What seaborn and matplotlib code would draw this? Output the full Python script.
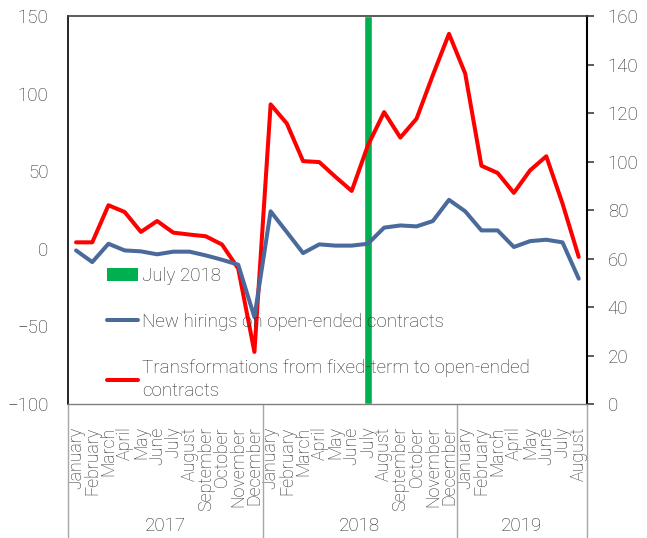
import numpy as np
import pandas as pd
import matplotlib
matplotlib.use("Agg")
import matplotlib.pyplot as plt
import matplotlib.transforms as mtransforms
from matplotlib.patches import Patch
from matplotlib.lines import Line2D
import seaborn as sns

# ---------------- data ----------------
month_names = ["January", "February", "March", "April", "May", "June", "July",
               "August", "September", "October", "November", "December"]
month_labels = month_names + month_names + month_names[:8]
years = ["2017", "2018", "2019"]
year_month_counts = [12, 12, 8]

# left axis
new_hirings = [-1.0, -8.5, 3.3, -1.0, -1.6, -3.5, -1.8, -1.8, -4.2, -7.0, -10.2, -44.0,
               24.2, 10.8, -2.7, 2.9, 2.1, 2.1, 3.3, 13.7, 15.1, 14.5, 17.9, 31.6,
               24.2, 11.9, 11.9, 1.2, 5.0, 5.9, 4.2, -19.2]
# right axis
transformations = [66.7, 66.7, 82.0, 79.2, 71.0, 75.5, 70.7, 69.9, 69.2, 65.8, 55.9, 21.5,
                   123.6, 115.7, 100.2, 99.8, 93.7, 87.9, 106.7, 120.4, 109.9, 117.7, 135.6, 152.7,
                   136.3, 98.3, 95.3, 87.1, 96.4, 102.2, 82.7, 60.7]

highlight_label = "July 2018"
highlight_index = [18]
highlight_value = [160]

series_labels = ["New hirings on open-ended contracts",
                 "Transformations from fixed-term to open-ended\ncontracts"]

# ---------------- style ----------------
sns.set_style("white")
plt.rcParams["font.family"] = ["Roboto", "DejaVu Sans"]
plt.rcParams["font.weight"] = "light"
text_color = "#2B2B2B"
blue = "#4A6A9B"
red = "#FF0000"
green = "#00B050"
sep_color = "#A6A6A6"
fs = 13.5

df = pd.DataFrame({"pos": np.arange(len(month_labels)), "month": month_labels,
                   "new": new_hirings, "trans": transformations})
bar_df = pd.DataFrame({"pos": highlight_index, "val": highlight_value})

fig = plt.figure(figsize=(6.47, 5.38), dpi=100)
ax = fig.add_axes([0.105, 0.249, 0.802, 0.721])
ax2 = ax.twinx()
ax.set_zorder(ax2.get_zorder() + 1)
ax.patch.set_visible(False)

sns.barplot(data=bar_df, x="pos", y="val", native_scale=True, width=0.45,
            color=green, saturation=1, ax=ax2)
sns.lineplot(data=df, x="pos", y="trans", ax=ax2, color=red, linewidth=2.9)
sns.lineplot(data=df, x="pos", y="new", ax=ax, color=blue, linewidth=2.9)

ax.set_xlim(-0.5, len(month_labels) - 0.5)
ax.set_ylim(-100, 150)
ax2.set_ylim(0, 160)
ax.set_yticks(np.arange(-100, 151, 50))
ax2.set_yticks(np.arange(0, 161, 20))
ax.set_xlabel("")
ax.set_ylabel("")
ax2.set_xlabel("")
ax2.set_ylabel("")

ax.tick_params(axis="y", length=0, pad=14, labelsize=fs, labelcolor=text_color)
ax2.tick_params(axis="y", length=5, width=1.2, color="#404040", pad=10,
                labelsize=fs, labelcolor=text_color)

ax.set_xticks(np.arange(len(month_labels)))
ax.set_xticklabels(month_labels, rotation=90, fontsize=12.8, color=text_color)
ax.set_xticks(np.arange(-0.5, len(month_labels), 1), minor=True)
ax.tick_params(axis="x", which="major", length=0, pad=16)
ax.tick_params(axis="x", which="minor", length=69, width=1, color=sep_color)

# spines
ax.spines["right"].set_visible(False)
for s in ["left", "top", "bottom"]:
    ax2.spines[s].set_visible(False)
ax.spines["left"].set_color("black")
ax.spines["left"].set_linewidth(1.2)
ax.spines["top"].set_color("#404040")
ax.spines["top"].set_linewidth(1.2)
ax.spines["bottom"].set_color("#7F7F7F")
ax.spines["bottom"].set_linewidth(1.0)
ax2.spines["right"].set_color("black")
ax2.spines["right"].set_linewidth(1.5)

# year separators and labels
trans = mtransforms.blended_transform_factory(ax.transData, ax.transAxes)
start = 0
bounds = [-0.5]
for y, n in zip(years, year_month_counts):
    center = start + (n - 1) / 2
    ax.text(center, -0.315, y, transform=trans, ha="center", va="center",
            fontsize=fs, color=text_color)
    start += n
    bounds.append(start - 0.5)
for b in bounds:
    ax.plot([b, b], [0, -0.345], transform=trans, color=sep_color, lw=1,
            clip_on=False)

# legend
handles = [Patch(facecolor=green, edgecolor="none"),
           Line2D([], [], color=blue, lw=2.9),
           Line2D([], [], color=red, lw=2.9)]
labels = [highlight_label] + series_labels
leg = ax.legend(handles, labels, loc="upper left", bbox_to_anchor=(0.0757, 0.354),
                frameon=False, fontsize=fs, labelcolor=text_color, handlelength=1.65,
                handletextpad=0.2, labelspacing=1.5, borderaxespad=0, borderpad=0)
for t in leg.get_texts():
    t.set_linespacing(1.37)

fig.savefig("out.png", dpi=100)
